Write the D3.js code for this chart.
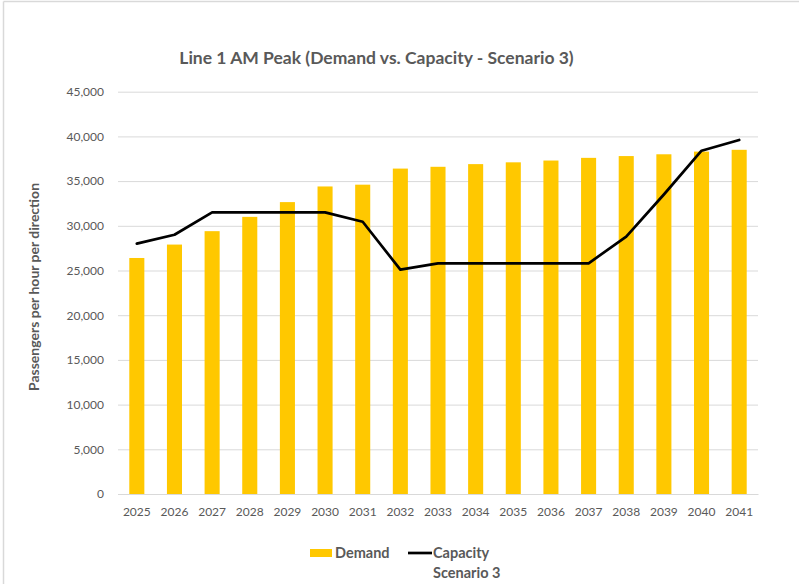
<!DOCTYPE html>
<html>
<head>
<meta charset="utf-8">
<script src="https://cdn.jsdelivr.net/npm/d3@7"></script>
<style>
  html, body { margin: 0; padding: 0; background: #fff; }
  svg { display: block; }
  text { font-family: Lato, "Open Sans", sans-serif; }
</style>
</head>
<body>
<svg id="chart" width="799" height="586"></svg>
<script>
const years = ["2025","2026","2027","2028","2029","2030","2031","2032","2033","2034","2035","2036","2037","2038","2039","2040","2041"];
const demand = [26400, 27900, 29400, 31000, 32650, 34400, 34600, 36400, 36600, 36900, 37100, 37300, 37600, 37800, 38000, 38300, 38500];
const capacity = [28000, 29000, 31500, 31500, 31500, 31500, 30450, 25100, 25800, 25800, 25800, 25800, 25800, 28800, 33500, 38400, 39600];
const yTicks = [0, 5000, 10000, 15000, 20000, 25000, 30000, 35000, 40000, 45000];

(function () {
const svg = d3.select("#chart");
const W = 799, H = 586;
const pLeft = 118, pRight = 758, pTop = 91.7, pBottom = 494;
const textColor = "#595959";

// frame
svg.append("line").attr("x1", 3.5).attr("x2", W).attr("y1", 1.5).attr("y2", 1.5)
  .attr("stroke", "#d9d9d9").attr("stroke-width", 1.5);
svg.append("line").attr("x1", 3.5).attr("x2", 3.5).attr("y1", 1.5).attr("y2", 584)
  .attr("stroke", "#d9d9d9").attr("stroke-width", 1.5);

const x = d3.scaleBand().domain(years).range([pLeft, pRight]).paddingInner(0.6).paddingOuter(0.3);
const y = d3.scaleLinear().domain([0, 45000]).range([pBottom, pTop]);

// gridlines
const yAxis = d3.axisLeft(y).tickValues(yTicks).tickSize(-(pRight - pLeft)).tickPadding(14)
  .tickFormat(d => d3.format(",")(d));
const gy = svg.append("g").attr("transform", `translate(${pLeft},0)`).call(yAxis);
gy.select(".domain").remove();
gy.selectAll(".tick line").attr("stroke", "#d9d9d9").attr("stroke-width", 1);
gy.selectAll(".tick text").attr("fill", textColor).style("font-size", "12px");

// bars
svg.append("g").selectAll("rect").data(years).join("rect")
  .attr("x", d => x(d))
  .attr("width", x.bandwidth())
  .attr("y", (d, i) => y(demand[i]))
  .attr("height", (d, i) => y(0) - y(demand[i]))
  .attr("fill", "#ffc800");

// x axis
const xAxis = d3.axisBottom(x).tickSize(0).tickPadding(13);
const gx = svg.append("g").attr("transform", `translate(0,${pBottom})`).call(xAxis);
gx.select(".domain").attr("stroke", "#d9d9d9");
gx.selectAll(".tick text").attr("fill", textColor).style("font-size", "12px");

// capacity line
const line = d3.line()
  .x((d, i) => x(years[i]) + x.bandwidth() / 2)
  .y(d => y(d));
svg.append("path").datum(capacity)
  .attr("d", line)
  .attr("fill", "none")
  .attr("stroke", "#000")
  .attr("stroke-width", 2.7)
  .attr("stroke-linejoin", "round")
  .attr("stroke-linecap", "round");

// title
svg.append("text").attr("x", 376.5).attr("y", 64).attr("text-anchor", "middle")
  .attr("fill", textColor).style("font-size", "17.5px").style("font-weight", "bold")
  .text("Line 1 AM Peak (Demand vs. Capacity - Scenario 3)");

// y axis title
svg.append("text").attr("transform", "translate(39,287) rotate(-90)")
  .attr("text-anchor", "middle").attr("fill", textColor)
  .style("font-size", "14px").style("font-weight", "bold")
  .text("Passengers per hour per direction");

// legend
const lg = svg.append("g");
lg.append("rect").attr("x", 310).attr("y", 549).attr("width", 22).attr("height", 8).attr("fill", "#ffc800");
lg.append("text").attr("x", 335).attr("y", 558).attr("fill", textColor)
  .style("font-size", "14.5px").style("font-weight", "bold").text("Demand");
lg.append("line").attr("x1", 408).attr("x2", 432).attr("y1", 553).attr("y2", 553)
  .attr("stroke", "#000").attr("stroke-width", 2.7);
lg.append("text").attr("x", 433).attr("y", 558).attr("fill", textColor)
  .style("font-size", "14.5px").style("font-weight", "bold").text("Capacity");
lg.append("text").attr("x", 433).attr("y", 578).attr("fill", textColor)
  .style("font-size", "14.5px").style("font-weight", "bold").text("Scenario 3");
})();
</script>
</body>
</html>
